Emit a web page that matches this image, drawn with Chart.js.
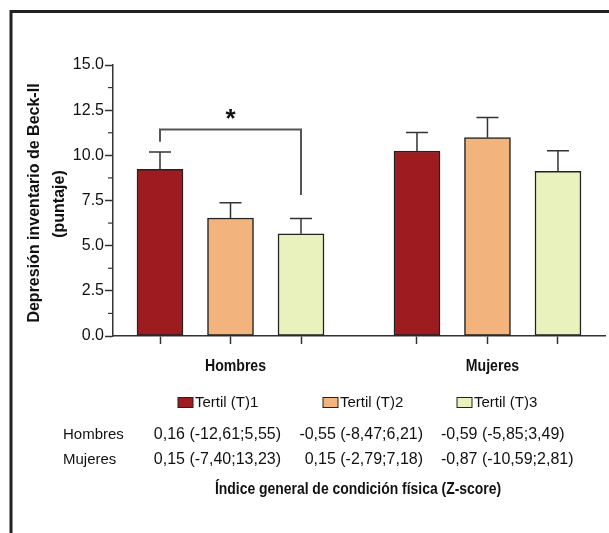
<!DOCTYPE html>
<html>
<head>
<meta charset="utf-8">
<script src="https://cdn.jsdelivr.net/npm/chart.js@4/dist/chart.umd.min.js"></script>
<style>
    html, body { margin: 0; padding: 0; background: #fff; }
    #wrap { position: relative; width: 609px; height: 533px; }
</style>
</head>
<body>
<div id="wrap"><canvas id="canvas"></canvas></div>
<script>
// Data
const groups = ["Hombres", "Mujeres"];
const tertiles = ["Tertil (T)1", "Tertil (T)2", "Tertil (T)3"];
const meanT1 = [9.22, 10.24];
const meanT2 = [6.53, 10.98];
const meanT3 = [5.66, 9.11];
const errT1 = [0.96, 1.03];
const errT2 = [0.85, 1.12];
const errT3 = [0.85, 1.15];
const yTicks = [0, 2.5, 5, 7.5, 10, 12.5, 15];

// significance bracket between Hombres T1 and T3
const bracketFrom = 1;
const bracketTo = 3;
const bracketTop = 11.43;
const bracketLeftEnd = 10.75;
const bracketRightEnd = 7.8;
const bracketMark = "*";

// table under the legend
const rowLabels = ["Hombres", "Mujeres"];
const rowT1 = ["0,16 (-12,61;5,55)", "0,15 (-7,40;13,23)"];
const rowT2 = ["-0,55 (-8,47;6,21)", "0,15 (-2,79;7,18)"];
const rowT3 = ["-0,59 (-5,85;3,49)", "-0,87 (-10,59;2,81)"];
const yTitle = ["Depresión inventario de Beck-II", "(puntaje)"];
const xTitle = "Índice general de condición física (Z-score)";

const colors = ["#9e1b20", "#f3b37c", "#e9f1bd"];
const means = [meanT1, meanT2, meanT3];
const errs = [errT1, errT2, errT3];
const groupStart = [1, 4.645];
const FONT = "'Liberation Sans', Arial, Helvetica, sans-serif";
const INK = "#111";

Chart.defaults.font.family = FONT;
Chart.defaults.color = INK;

// x position of bar t (tertile) in group g
const barX = (g, t) => groupStart[g] + t;

const datasets = tertiles.map((label, t) => ({
    label: label,
    data: groups.map((g, gi) => ({ x: barX(gi, t), y: means[t][gi] })),
    backgroundColor: colors[t],
    borderColor: "#222",
    borderWidth: 1.5,
    borderSkipped: false,
    barThickness: 46,
    grouped: false
}));

const extras = {
    id: "extras",
    afterDraw(chart) {
        const ctx = chart.ctx;
        const xs = chart.scales.x;
        const ys = chart.scales.y;
        ctx.save();

        // frame (top and left)
        ctx.strokeStyle = "#222";
        ctx.lineWidth = 3;
        ctx.beginPath();
        ctx.moveTo(609, 11.5);
        ctx.lineTo(11, 11.5);
        ctx.lineTo(11, 533);
        ctx.stroke();

        // error bars
        ctx.strokeStyle = "#333";
        ctx.lineWidth = 1.5;
        means.forEach((m, t) => {
            const meta = chart.getDatasetMeta(t);
            meta.data.forEach((bar, gi) => {
                const yTop = ys.getPixelForValue(m[gi] + errs[t][gi]);
                const yBar = ys.getPixelForValue(m[gi]);
                ctx.beginPath();
                ctx.moveTo(bar.x, yBar);
                ctx.lineTo(bar.x, yTop);
                ctx.moveTo(bar.x - 11, yTop);
                ctx.lineTo(bar.x + 11, yTop);
                ctx.stroke();
            });
        });

        // minor ticks on y
        ctx.strokeStyle = "#333";
        ctx.lineWidth = 1.2;
        for (let i = 0; i < yTicks.length - 1; i++) {
            const py = ys.getPixelForValue((yTicks[i] + yTicks[i + 1]) / 2);
            ctx.beginPath();
            ctx.moveTo(xs.left - 5, py);
            ctx.lineTo(xs.left, py);
            ctx.stroke();
        }

        // significance bracket
        const bx1 = xs.getPixelForValue(bracketFrom);
        const bx2 = xs.getPixelForValue(bracketTo);
        const by = ys.getPixelForValue(bracketTop);
        ctx.strokeStyle = "#555";
        ctx.lineWidth = 2;
        ctx.beginPath();
        ctx.moveTo(bx1, ys.getPixelForValue(bracketLeftEnd));
        ctx.lineTo(bx1, by);
        ctx.lineTo(bx2, by);
        ctx.lineTo(bx2, ys.getPixelForValue(bracketRightEnd));
        ctx.stroke();
        ctx.fillStyle = INK;
        ctx.font = "bold 26px " + FONT;
        ctx.textAlign = "center";
        ctx.textBaseline = "middle";
        ctx.fillText(bracketMark, (bx1 + bx2) / 2, by - 10);

        // group labels
        ctx.font = "bold 16px " + FONT;
        groups.forEach((g, gi) => {
            const cx = xs.getPixelForValue(barX(gi, 1)) + 5;
            const w = ctx.measureText(g).width * 0.88;
            ctx.fillText(g, cx, 367, w);
        });

        // y title
        ctx.save();
        ctx.translate(35, 203);
        ctx.rotate(-Math.PI / 2);
        ctx.fillText(yTitle[0], 0, 0);
        ctx.restore();
        ctx.save();
        ctx.translate(60, 204);
        ctx.rotate(-Math.PI / 2);
        ctx.fillText(yTitle[1], 0, 0);
        ctx.restore();

        // legend
        const legX = [178, 323, 457];
        ctx.font = "15px " + FONT;
        ctx.textAlign = "left";
        tertiles.forEach((label, t) => {
            ctx.fillStyle = colors[t];
            ctx.fillRect(legX[t], 397.5, 15, 10);
            ctx.strokeStyle = "#222";
            ctx.lineWidth = 1;
            ctx.strokeRect(legX[t], 397.5, 15, 10);
            ctx.fillStyle = INK;
            ctx.fillText(label, legX[t] + 17, 403);
        });

        // table
        const rowY = [435, 460];
        rowLabels.forEach((r, i) => {
            ctx.font = "15px " + FONT;
            ctx.textAlign = "left";
            ctx.fillText(r, 63, rowY[i]);
            ctx.font = "16px " + FONT;
            ctx.textAlign = "right";
            ctx.fillText(rowT1[i], 281, rowY[i]);
            ctx.fillText(rowT2[i], 423, rowY[i]);
            ctx.textAlign = "left";
            ctx.fillText(rowT3[i], 441, rowY[i]);
        });

        // x title
        ctx.font = "bold 16px " + FONT;
        ctx.textAlign = "center";
        ctx.fillText(xTitle, 358, 490, ctx.measureText(xTitle).width * 0.87);

        ctx.restore();
    }
};

new Chart(document.getElementById("canvas"), {
    type: "bar",
    data: { datasets: datasets },
    options: {
        responsive: true,
        maintainAspectRatio: false,
        animation: false,
        layout: { padding: { left: 0, right: 4, top: 65, bottom: 177 } },
        plugins: { legend: { display: false }, tooltip: { enabled: false } },
        scales: {
            x: {
                type: "linear",
                offset: false,
                min: 0.3333,
                max: 7.312,
                afterBuildTicks: (s) => {
                    s.ticks = [];
                    groups.forEach((g, gi) => tertiles.forEach((t, ti) => s.ticks.push({ value: barX(gi, ti) })));
                },
                afterFit: (s) => { s.height = 20; },
                ticks: { callback: () => "", autoSkip: false },
                grid: { offset: false, drawOnChartArea: false, tickLength: 8, tickColor: "#333", tickWidth: 1.5 },
                border: { color: "#333", width: 1.5 }
            },
            y: {
                min: 0,
                max: 15,
                afterBuildTicks: (s) => { s.ticks = yTicks.map(v => ({ value: v })); },
                afterFit: (s) => { s.width = 113; },
                ticks: {
                    callback: (v) => Number(v).toFixed(1),
                    font: { size: 16 },
                    color: INK,
                    padding: 1
                },
                grid: { drawOnChartArea: false, tickLength: 8, tickColor: "#333", tickWidth: 1.5 },
                border: { color: "#333", width: 1.5 }
            }
        }
    },
    plugins: [extras]
});
</script>
</body>
</html>
